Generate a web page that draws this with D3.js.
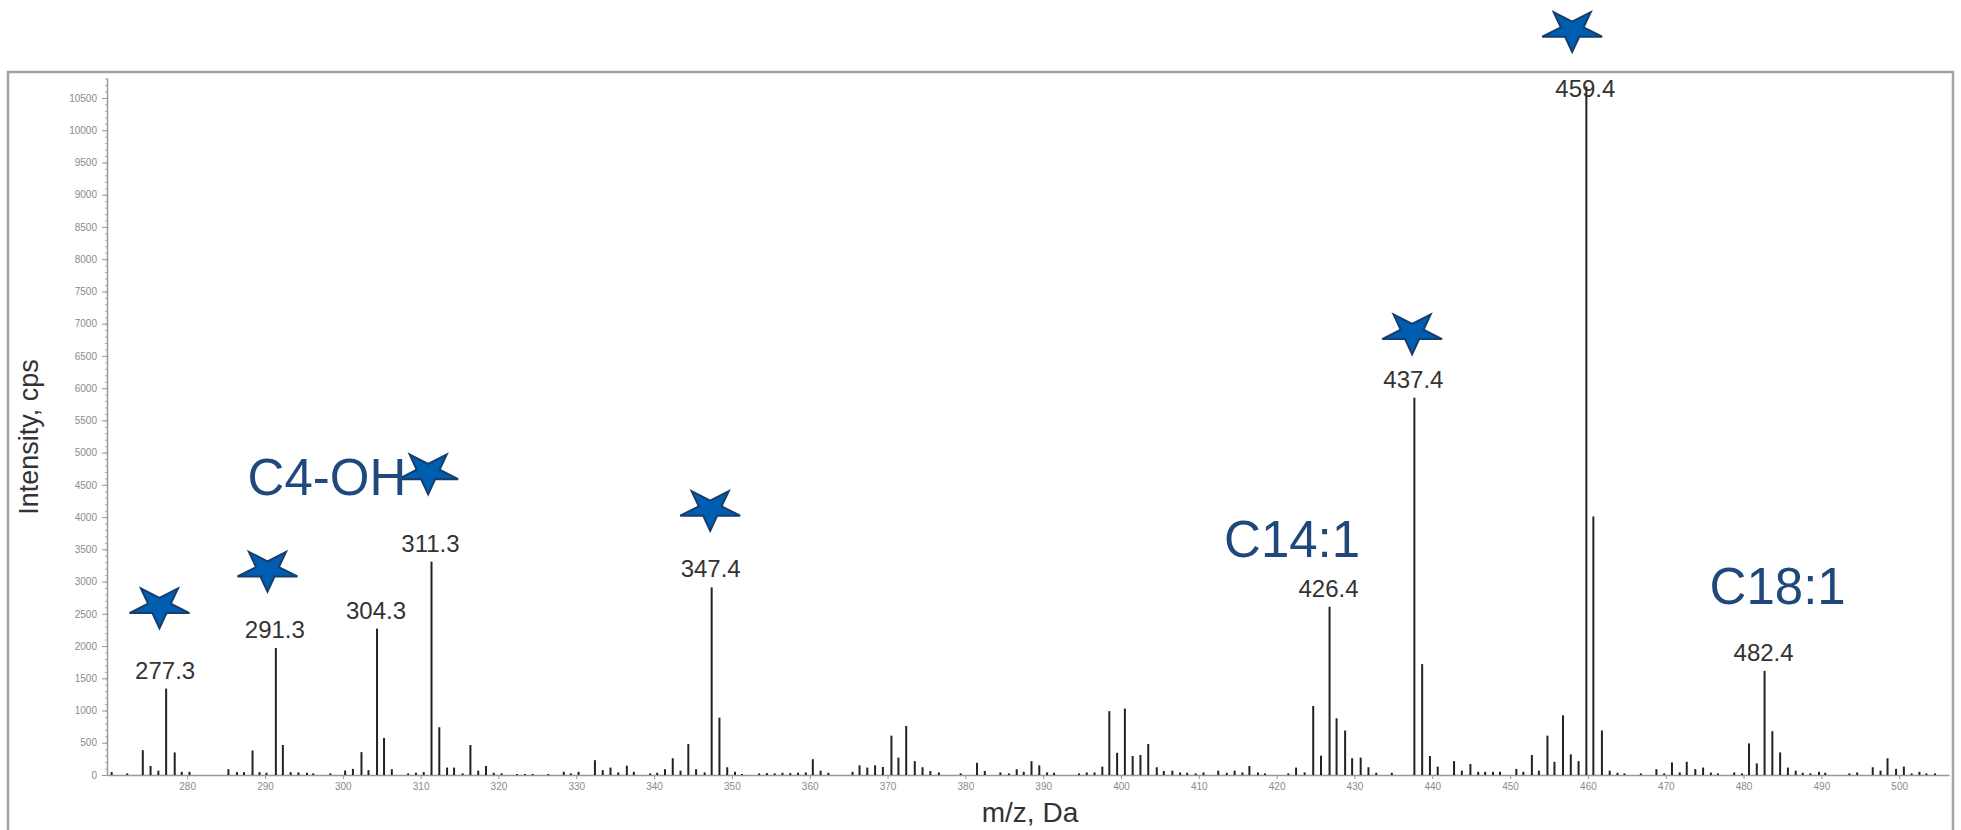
<!DOCTYPE html>
<html>
<head>
<meta charset="utf-8">
<script src="https://cdn.jsdelivr.net/npm/d3@7"></script>
<style>
  body { margin: 0; background: #fff; }
  svg { display: block; font-family: "Liberation Sans", Arial, sans-serif; }
</style>
</head>
<body>
<div id="graph"></div>
<script>
// spectrum peaks (m/z, intensity in cps)
const mzValues = [
  270.3, 272.3, 274.3, 275.3, 276.3, 277.3, 278.4, 279.3, 280.3,
  285.3, 286.4, 287.3, 288.4, 289.3, 290.2, 291.4, 292.3, 293.3, 294.3, 295.4, 296.2, 298.4,
  300.3, 301.3, 302.4, 303.3, 304.4, 305.3, 306.3, 308.4, 309.4, 310.4, 311.4, 312.4, 313.4,
  314.3, 315.4, 316.4, 317.4, 318.4, 319.4, 320.4, 322.4, 323.4, 324.4, 326.4,
  328.4, 329.3, 330.3, 332.4, 333.4, 334.4, 335.4, 336.5, 337.4, 339.5, 340.4, 341.4, 342.4,
  343.4, 344.4, 345.4, 346.5, 347.4, 348.4, 349.4, 350.4, 351.3,
  353.5, 354.5, 355.5, 356.5, 357.5, 358.5, 359.5, 360.4, 361.4, 362.4,
  365.5, 366.4, 367.4, 368.4, 369.4, 370.5, 371.4, 372.4, 373.5, 374.5, 375.5, 376.6, 379.4,
  381.5, 382.5, 384.5, 385.6, 386.6, 387.5, 388.5, 389.5, 390.5, 391.4,
  394.6, 395.6, 396.6, 397.6, 398.5, 399.5, 400.5, 401.5, 402.5, 403.5, 404.6, 405.5, 406.6,
  407.6, 408.5, 409.6, 410.6, 412.5, 413.6, 414.6, 415.6, 416.5, 417.6, 418.5,
  421.5, 422.5, 423.6, 424.7, 425.7, 426.8, 427.7, 428.8, 429.7, 430.8, 431.8, 432.8, 434.8,
  437.7, 438.7, 439.7, 440.7, 442.8, 443.8, 444.9, 445.9, 446.8, 447.8, 448.7,
  450.8, 451.7, 452.8, 453.7, 454.8, 455.7, 456.8, 457.8, 458.8, 459.8, 460.7, 461.8,
  462.8, 463.8, 464.7, 466.8, 468.8, 469.8, 470.8, 471.8, 472.7, 473.8, 474.8, 475.8, 476.7,
  478.8, 479.8, 480.7, 481.7, 482.7, 483.7, 484.7, 485.7, 486.7, 487.6, 488.6, 489.7, 490.5,
  493.6, 494.6, 496.6, 497.6, 498.5, 499.6, 500.6, 501.6, 502.6, 503.5, 504.6
];
const intensities = [
  45, 25, 385, 140, 67, 1340, 350, 50, 50,
  90, 45, 45, 380, 45, 35, 1970, 465, 45, 40, 35, 25, 25,
  70, 95, 355, 75, 2270, 575, 90, 25, 35, 45, 3310, 740, 115,
  115, 25, 465, 67, 140, 35, 25, 15, 15, 15, 15,
  50, 25, 50, 230, 75, 115, 40, 145, 50, 25, 35, 90, 260,
  67, 480, 90, 40, 2910, 890, 120, 50, 15,
  25, 30, 25, 35, 30, 35, 40, 245, 67, 35,
  50, 150, 115, 150, 125, 610, 270, 760, 215, 120, 62, 40, 25,
  190, 62, 40, 25, 90, 50, 215, 150, 40, 35,
  25, 40, 40, 130, 990, 345, 1030, 295, 310, 480, 120, 62, 67,
  40, 35, 25, 40, 67, 35, 67, 40, 140, 40, 25,
  25, 115, 40, 1070, 300, 2610, 880, 690, 260, 270, 120, 35, 35,
  5850, 1720, 295, 130, 215, 67, 170, 50, 50, 50, 50,
  95, 50, 310, 67, 610, 205, 925, 320, 215, 10680, 4010, 690,
  67, 35, 25, 25, 90, 25, 195, 40, 205, 92, 115, 38, 25,
  40, 25, 490, 180, 1615, 680, 350, 115, 67, 35, 25, 50, 35,
  25, 40, 120, 67, 260, 95, 130, 25, 50, 25, 25
];

// labelled peaks
const peakLabelMz = [277.3, 291.4, 304.4, 311.4, 347.4, 426.8, 437.7, 459.8, 482.7];
const peakLabelText = ["277.3", "291.3", "304.3", "311.3", "347.4", "426.4", "437.4", "459.4", "482.4"];

// stars (centre in m/z, cps)
const starMz = [276.44, 290.32, 310.97, 347.21, 437.41, 457.98];
const starIntensity = [2617, 3184, 4694, 4127, 6866, 11555];

// blue compound names (centre m/z, baseline cps)
const noteText = ["C4-OH", "C14:1", "C18:1"];
const noteMz = [297.96, 421.99, 484.38];
const noteIntensity = [4338, 3386, 2656];

// ticks
const xTicks = [280, 290, 300, 310, 320, 330, 340, 350, 360, 370, 380, 390, 400,
  410, 420, 430, 440, 450, 460, 470, 480, 490, 500];
const yTicks = [0, 500, 1000, 1500, 2000, 2500, 3000, 3500, 4000, 4500, 5000, 5500,
  6000, 6500, 7000, 7500, 8000, 8500, 9000, 9500, 10000, 10500];

const w = 1961;
const h = 830;

const x = d3.scaleLinear().domain([269.7, 506.4]).range([107, 1949]);
const y = d3.scaleLinear().domain([0, 10810]).range([775, 78]);

const svg = d3.select("#graph")
      .append("svg")
      .attr("width", w)
      .attr("height", h);

// outer frame
svg.append("rect")
      .attr("x", 8)
      .attr("y", 72)
      .attr("width", 1945)
      .attr("height", 800)
      .style("fill", "none")
      .style("stroke", "#a3a3a3")
      .style("stroke-width", 2.5);

// minor y ticks
svg.append("g")
      .attr("transform", "translate(107,0)")
      .call(d3.axisLeft(y).tickValues(d3.range(0, 10801, 100)).tickSize(2).tickFormat("").tickSizeOuter(0))
      .call(g => g.select(".domain").remove())
      .selectAll("line").style("stroke", "#aaa");

// y axis
const yAxis = svg.append("g")
      .attr("transform", "translate(107,0)")
      .call(d3.axisLeft(y).tickValues(yTicks).tickFormat(d3.format("d")).tickSize(5).tickPadding(5).tickSizeOuter(0));
yAxis.select(".domain").style("stroke", "#999").style("stroke-width", 1.5);
yAxis.selectAll("line").style("stroke", "#999");
yAxis.selectAll("text")
      .style("font-size", "10px")
      .style("fill", "#8a8a8a")
      .style("font-family", "'Liberation Sans', Arial, sans-serif");

// x axis
const xAxis = svg.append("g")
      .attr("transform", "translate(0,775)")
      .call(d3.axisBottom(x).tickValues(xTicks).tickSize(4).tickPadding(4).tickSizeOuter(0));
xAxis.select(".domain").style("stroke", "#999").style("stroke-width", 1.5);
xAxis.selectAll("line").style("stroke", "#999");
xAxis.selectAll("text")
      .style("font-size", "10px")
      .style("fill", "#8a8a8a")
      .style("font-family", "'Liberation Sans', Arial, sans-serif");

// axis titles
svg.append("text")
      .attr("transform", "translate(38,437) rotate(-90)")
      .attr("text-anchor", "middle")
      .style("font-size", "27px")
      .style("fill", "#333")
      .text("Intensity, cps");

svg.append("text")
      .attr("x", 1030)
      .attr("y", 822)
      .attr("text-anchor", "middle")
      .style("font-size", "28px")
      .style("fill", "#333")
      .text("m/z, Da");

// peaks
const peaks = mzValues.map((d, i) => ({mz: d, v: intensities[i]}));
svg.append("g").selectAll("line")
      .data(peaks)
      .enter()
      .append("line")
      .attr("x1", (d) => x(d.mz))
      .attr("x2", (d) => x(d.mz))
      .attr("y1", y(0))
      .attr("y2", (d) => y(d.v))
      .style("stroke", "#222")
      .style("stroke-width", 2);

// peak labels, kept inside the plot at the top
const labels = peakLabelMz.map((d, i) => ({mz: d, text: peakLabelText[i], v: intensities[mzValues.indexOf(d)]}));
svg.append("g").selectAll("text")
      .data(labels)
      .enter()
      .append("text")
      .attr("x", (d) => x(d.mz) - 1)
      .attr("y", (d) => Math.max(y(d.v) - 10, 97))
      .attr("text-anchor", "middle")
      .style("font-size", "24px")
      .style("fill", "#333")
      .text((d) => d.text);

// stars (upside down, squashed)
const rx = 31.5, ry = 22;
const starPath = (cx, cy) => {
  const pts = [];
  for (let k = 0; k < 10; k++) {
    const a = Math.PI / 2 + k * Math.PI / 5;
    const r = k % 2 === 0 ? 1 : 0.38;
    pts.push([cx + r * rx * Math.cos(a), cy + r * ry * Math.sin(a)]);
  }
  return "M" + pts.map(p => p.join(",")).join("L") + "Z";
};
svg.append("g").selectAll("path")
      .data(starMz.map((d, i) => ({mz: d, v: starIntensity[i]})))
      .enter()
      .append("path")
      .attr("d", (d) => starPath(x(d.mz), y(d.v)))
      .style("fill", "#005eb0")
      .style("stroke", "#163d6e")
      .style("stroke-width", 2)
      .style("stroke-linejoin", "miter");

// compound names
svg.append("g").selectAll("text")
      .data(noteText.map((d, i) => ({text: d, mz: noteMz[i], v: noteIntensity[i]})))
      .enter()
      .append("text")
      .attr("x", (d) => x(d.mz))
      .attr("y", (d) => y(d.v))
      .attr("text-anchor", "middle")
      .style("font-size", "51px")
      .style("fill", "#1f497d")
      .text((d) => d.text);
</script>
</body>
</html>
